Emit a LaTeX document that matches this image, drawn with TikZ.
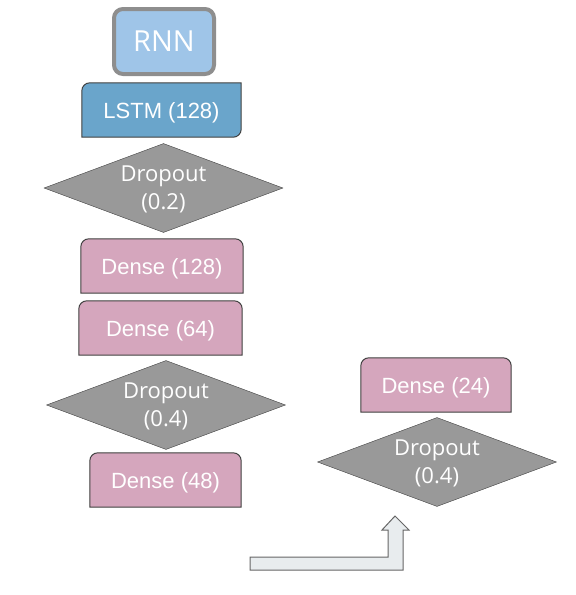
\documentclass[tikz,border=0pt]{standalone}
\usepackage{fontspec}
\setmainfont{Liberation Sans}
\newfontfamily\opensans{Open Sans}
\usepackage{tikz}
\usetikzlibrary{shapes.geometric,backgrounds}
\definecolor{rnnblue}{HTML}{9FC5E8}
\definecolor{rnnedge}{HTML}{8E8E8E}
\definecolor{lstmblue}{HTML}{6AA5CB}
\definecolor{densepink}{HTML}{D5A6BD}
\definecolor{dropgray}{HTML}{999999}
\definecolor{edgedark}{HTML}{404040}
\definecolor{arrowgray}{HTML}{E8ECEE}
\tikzset{
  rnnbox/.style={draw=rnnedge, fill=rnnblue, line width=4, rounded corners=9,
    minimum width=100, minimum height=65, inner sep=0, text=white,
    text depth=0, font=\opensans\fontsize{29}{32}\selectfont},
  layer/.style={minimum width=#1, minimum height=54, inner sep=0, text=white,
    text height=16, text depth=0, font=\fontsize{22}{26}\selectfont},
  dropbox/.style={shape=diamond, aspect=2.7, draw=edgedark, fill=dropgray,
    minimum width=239, minimum height=89, inner sep=0, align=center, text=white,
    text depth=0, font=\opensans\fontsize{22}{28}\selectfont},
  lstmfill/.style={draw=edgedark, fill=lstmblue, line width=1},
  densefill/.style={draw=edgedark, fill=densepink, line width=1},
  arrowfill/.style={draw=edgedark!80, fill=arrowgray, line width=1}
}
\begin{document}
\begin{tikzpicture}[x=1pt,y=-1pt]
\useasboundingbox (0,0) rectangle (576,595);
% left column
\node[rnnbox] (rnn) at (164,41.5) {RNN};
\node[layer=159] (lstm) at (161.5,110) {LSTM (128)};
\node[dropbox] (drop1) at (163.5,188) {Dropout\\(0.2)};
\node[layer=162] (dense1) at (162,266) {Dense (128)};
\node[layer=163] (dense2) at (160.5,328) {Dense (64)};
\node[dropbox] (drop2) at (166,405) {Dropout\\(0.4)};
\node[layer=151] (dense3) at (165.5,480) {Dense (48)};
% right column
\node[layer=150] (dense4) at (436,385) {Dense (24)};
\node[dropbox] (drop3) at (437,462) {Dropout\\(0.4)};
\begin{scope}[on background layer]
\draw[lstmfill] (lstm.west) [rounded corners=8] |- (lstm.north) [sharp corners] -| (lstm.east)
  [rounded corners=8] |- (lstm.south) [sharp corners] -| (lstm.west) -- cycle;
\foreach \n in {dense1,dense2,dense3,dense4}
{   \draw[densefill] (\n.west) [rounded corners=8] |- (\n.north) -| (\n.east)
      [sharp corners] |- (\n.south) -| (\n.west) -- cycle;
}
\end{scope}
% block arrow
\draw[arrowfill] (250,557) -- (388,557) -- (388,530) -- (382,530) -- (395,516)
  -- (409,530) -- (403,530) -- (403,570) -- (250,570) -- cycle;
\end{tikzpicture}
\end{document}
